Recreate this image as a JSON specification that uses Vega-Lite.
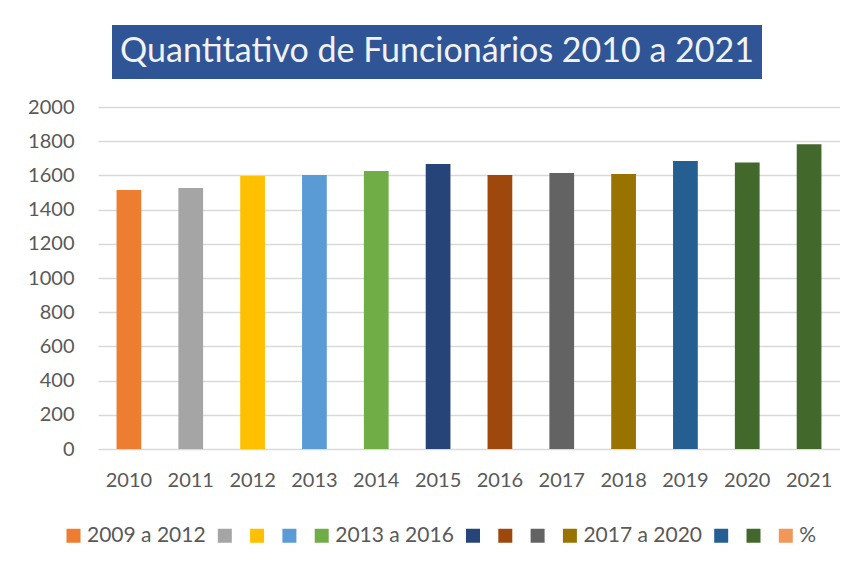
{
  "$schema": "https://vega.github.io/schema/vega-lite/v6.json",
  "background": "white",
  "padding": {"left": 27, "top": 25, "right": 0, "bottom": 0},
  "config": {"view": {"stroke": null}, "font": "Lato"},
  "spacing": 18,
  "center": true,
  "vconcat": [
    {
      "width": 650,
      "height": 54,
      "view": {"fill": "#2F5597", "stroke": null},
      "data": {"values": [{"t": "Quantitativo de Funcionários 2010 a 2021"}]},
      "mark": {"type": "text", "color": "#F2F2F2", "fontSize": 34, "font": "Lato"},
      "encoding": {
        "text": {"field": "t"},
        "y": {"field": "t", "type": "nominal", "axis": {"orient": "right", "labels": false, "ticks": false, "domain": false, "title": null, "grid": false, "minExtent": 64}}
      }
    },
    {
      "width": 742,
      "height": 342,
      "data": {
        "values": [
          {"ano": "2010", "valor": 1515, "serie": "2009 a 2012"},
          {"ano": "2011", "valor": 1526, "serie": "s2"},
          {"ano": "2012", "valor": 1596, "serie": "s3"},
          {"ano": "2013", "valor": 1602, "serie": "s4"},
          {"ano": "2014", "valor": 1626, "serie": "2013 a 2016"},
          {"ano": "2015", "valor": 1667, "serie": "s6"},
          {"ano": "2016", "valor": 1602, "serie": "s7"},
          {"ano": "2017", "valor": 1614, "serie": "s8"},
          {"ano": "2018", "valor": 1608, "serie": "2017 a 2020"},
          {"ano": "2019", "valor": 1684, "serie": "s10"},
          {"ano": "2020", "valor": 1675, "serie": "s11"},
          {"ano": "2021", "valor": 1782, "serie": "s11"}
        ]
      },
      "mark": {"type": "bar"},
      "encoding": {
        "x": {
          "field": "ano", "type": "ordinal",
          "scale": {"paddingInner": 0.6, "paddingOuter": 0.3},
          "axis": {"title": null, "labelAngle": 0, "ticks": false, "domain": false, "labelFontSize": 20, "labelColor": "#595959", "labelPadding": 21, "labelFont": "Lato"}
        },
        "y": {
          "field": "valor", "type": "quantitative",
          "scale": {"domain": [0, 2000]},
          "axis": {"title": null, "values": [0, 200, 400, 600, 800, 1000, 1200, 1400, 1600, 1800, 2000], "format": "d", "ticks": false, "domain": false, "gridColor": "#D9D9D9", "gridWidth": 1.5, "labelFontSize": 20, "labelColor": "#595959", "labelPadding": 24, "labelFont": "Lato"}
        },
        "color": {
          "field": "serie", "type": "nominal",
          "scale": {
            "domain": ["2009 a 2012", "s2", "s3", "s4", "2013 a 2016", "s6", "s7", "s8", "2017 a 2020", "s10", "s11", "%"],
            "range": ["#ED7D31", "#A5A5A5", "#FFC000", "#5B9BD5", "#70AD47", "#264478", "#9E480E", "#636363", "#997300", "#255E91", "#43682B", "#F1975A"]
          },
          "legend": {
            "orient": "none", "legendX": -35, "legendY": 500, "padding": 0,
            "direction": "horizontal", "title": null,
            "symbolType": "square", "symbolSize": 196, "symbolStrokeWidth": 0, "symbolOpacity": 1,
            "labelFontSize": 21, "labelColor": "#595959", "labelFont": "Lato", "labelOffset": 3,
            "columnPadding": 8.3,
            "labelExpr": "datum.label[0] == 's' ? '' : datum.label"
          }
        }
      }
    }
  ]
}
